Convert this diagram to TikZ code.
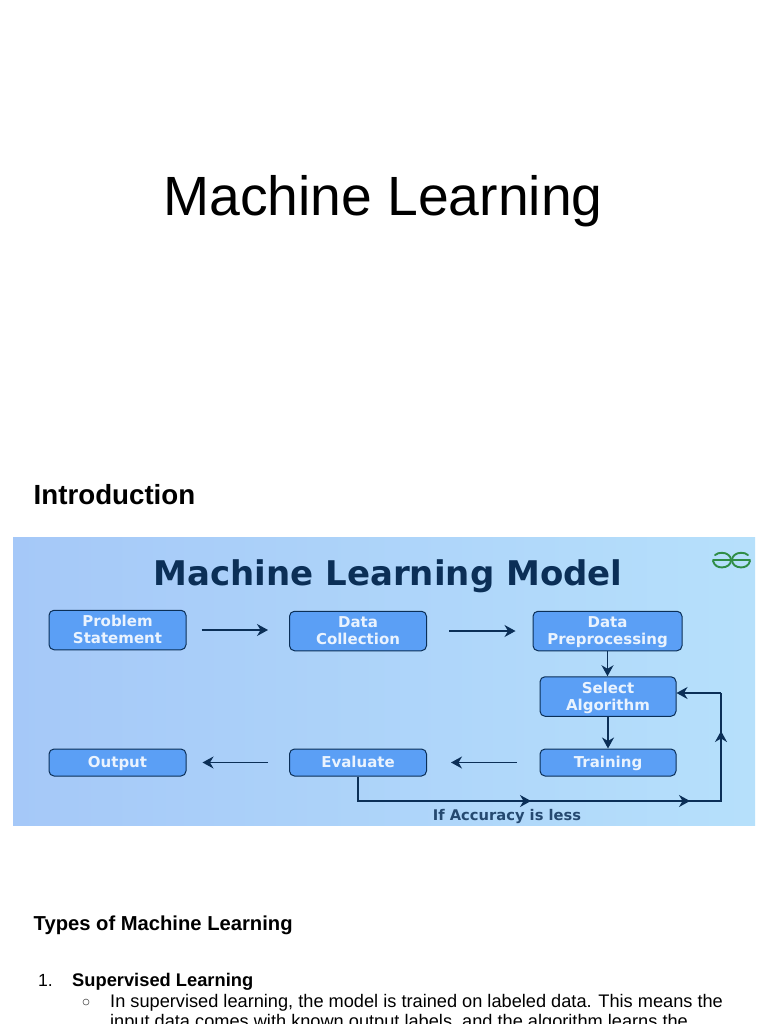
\documentclass[tikz,border=0pt]{standalone}
\usepackage{fontspec}
\setmainfont{Liberation Sans}
\newfontfamily\diafont{DejaVu Sans}
\usetikzlibrary{arrows.meta,calc}
\definecolor{navy}{HTML}{0B2F57}
\definecolor{boxfill}{HTML}{5B9FF5}
\definecolor{boxtext}{HTML}{EAF3FE}
\definecolor{panelL}{HTML}{A5C8F8}
\definecolor{panelR}{HTML}{B6E0FB}
\definecolor{gfg}{HTML}{2F8D46}
\newcommand{\boxstrut}{\rule[-3.1pt]{0pt}{17pt}}
\tikzset{
  x=1pt,y=-1pt,
  flowbox/.style={draw=navy,line width=1pt,fill=boxfill,rounded corners=5pt,minimum height=27pt,
    inner sep=0pt,align=center,text=boxtext,font=\diafont\bfseries\fontsize{15}{17}\selectfont},
  flow/.style={draw=navy,line width=1.3pt,-{Stealth[length=11pt,width=12pt,inset=3.5pt]}},
  loopline/.style={draw=navy,line width=1.4pt},
  pagetext/.style={anchor=base west,inner sep=0pt,text=black},
  logo/.style={draw=gfg,line width=1.9pt,line cap=round},
}
\newcommand{\midtip}[2]{\draw[navy,line width=1.4pt,-{Stealth[length=11pt,width=12pt,inset=3.5pt]}] #1 -- #2;}
\begin{document}
\begin{tikzpicture}
\useasboundingbox (0,0) rectangle (768,1024);
\clip (0,0) rectangle (768,1024);
\fill[white] (0,0) rectangle (768,1024);
\node[pagetext,font=\fontsize{55.3}{60}\selectfont] (title) at (163,215) {Machine Learning};
\node[pagetext,font=\bfseries\fontsize{27.7}{30}\selectfont] (intro) at (33.5,504) {Introduction};
\shade[left color=panelL,right color=panelR] (13,537) rectangle (755,825);
\node[font=\diafont\bfseries\fontsize{34}{36}\selectfont,text=navy,inner sep=0pt,anchor=base] (head) at (388,585) {Machine Learning Model};
\node[flowbox,minimum width=137pt,minimum height=39.5pt] (ps) at (117.5,630) {\boxstrut Problem\\\boxstrut Statement};
\node[flowbox,minimum width=137pt,minimum height=39.5pt] (dc) at (358,631) {\boxstrut Data\\\boxstrut Collection};
\node[flowbox,minimum width=149pt,minimum height=39.5pt] (dp) at (607.5,631) {\boxstrut Data\\\boxstrut Preprocessing};
\node[flowbox,minimum width=136pt,minimum height=39.5pt] (sa) at (608,696.5) {\boxstrut Select\\\boxstrut Algorithm};
\node[flowbox,minimum width=136pt] (tr) at (608,762.5) {\boxstrut Training};
\node[flowbox,minimum width=137pt] (ev) at (358,762.5) {\boxstrut Evaluate};
\node[flowbox,minimum width=137pt] (ou) at (117.5,762.5) {\boxstrut Output};
\draw[flow,shorten <=15pt,shorten >=21pt] (ps.east) -- (ps.east -| dc.west);
\draw[flow,shorten <=22pt,shorten >=17pt] (dc.east) -- (dc.east -| dp.west);
\draw[flow] (dp.south) -- (dp.south |- sa.north);
\draw[flow] (sa.south) -- (sa.south |- tr.north);
\draw[flow,shorten <=23pt,shorten >=24pt] (tr.west) -- (tr.west -| ev.east);
\draw[flow,shorten <=21pt,shorten >=16pt] (ev.west) -- (ev.west -| ou.east);
\coordinate (c1) at (358,801);
\coordinate (c2) at (721,801);
\coordinate (c3) at (721,693);
\draw[loopline,line join=miter] (ev.south) -- (c1) -- (c2) -- (c3);
\draw[flow,line width=1.4pt] (c3) -- (c3 -| sa.east);
\coordinate (m1a) at (510,801); \coordinate (m1b) at (531,801);
\coordinate (m2a) at (670,801); \coordinate (m2b) at (690,801);
\coordinate (m3a) at (721,750); \coordinate (m3b) at (721,731);
\midtip{(m1a)}{(m1b)}
\midtip{(m2a)}{(m2b)}
\midtip{(m3a)}{(m3b)}
\node[font=\diafont\bfseries\fontsize{14.7}{17}\selectfont,text=navy!85!panelR,inner sep=0pt,anchor=base] (acc) at (507,820) {If Accuracy is less};
% GfG logo
\draw[logo] (713,560) -- (750,560);
\draw[logo] (715,555) .. controls (717,553.2) and (719.5,552.8) .. (722,552.8)
  .. controls (727,552.8) and (731,556) .. (731,560)
  .. controls (731,564.5) and (727,567.4) .. (722,567.4)
  .. controls (718,567.4) and (714.5,566) .. (713,561);
\draw[logo] (748,555) .. controls (746,553.2) and (743.5,552.8) .. (741,552.8)
  .. controls (736,552.8) and (732,556) .. (732,560)
  .. controls (732,564.5) and (736,567.4) .. (741,567.4)
  .. controls (745,567.4) and (748.5,566) .. (750,561);
% text
\node[pagetext,font=\bfseries\fontsize{20.2}{22}\selectfont] (types) at (33.5,930) {Types of Machine Learning};
\node[pagetext,font=\fontsize{17.6}{20}\selectfont] (n1) at (38,986) {1.};
\node[pagetext,font=\bfseries\fontsize{18.3}{20}\selectfont] (sl) at (72,986) {Supervised Learning};
\node[draw=black!65,line width=0.6pt,circle,minimum size=6pt,inner sep=0pt] (bul) at (86,1002) {};
\node[pagetext,font=\fontsize{18.2}{20}\selectfont] (l1) at (110,1007) {In supervised learning, the model is trained on labeled data. This means the};
\node[pagetext,font=\fontsize{18.2}{20}\selectfont] (l2) at (110,1027) {input data comes with known output labels, and the algorithm learns the};
\end{tikzpicture}
\end{document}
